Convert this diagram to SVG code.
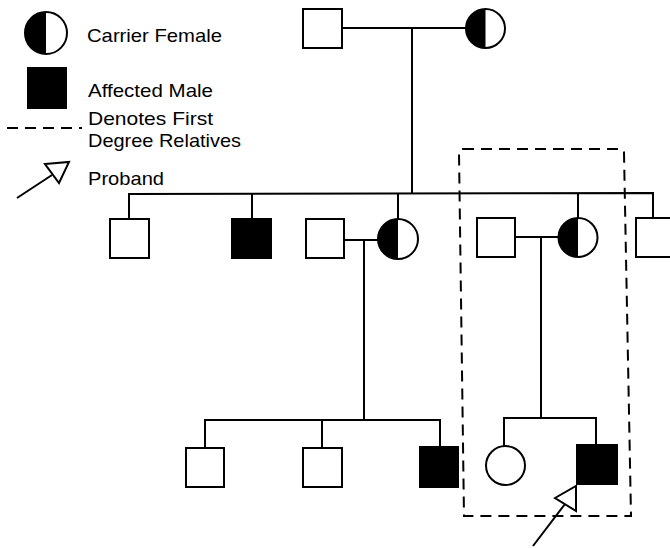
<svg xmlns="http://www.w3.org/2000/svg" width="670" height="548" viewBox="0 0 670 548">
<style>
.ln{fill:none;stroke:#000;stroke-width:2}
.m{fill:#fff;stroke:#000;stroke-width:2}
.a{fill:#000;stroke:#000;stroke-width:2}
.half{fill:#000}
.t{font-family:"Liberation Sans",Arial,sans-serif;font-size:19px;fill:#000}
.dash{fill:none;stroke:#000;stroke-width:2;stroke-dasharray:11,7}
</style>
<rect width="670" height="548" fill="#fff"/>
<g id="legend">
  <circle class="m" cx="46" cy="33" r="21"/>
  <path class="half" d="M46,12 A21,21 0 0 0 46,54 Z"/>
  <text class="t" x="87" y="42" textLength="135" lengthAdjust="spacingAndGlyphs">Carrier Female</text>
  <rect class="a" x="28" y="68" width="38" height="40"/>
  <text class="t" x="88" y="97" textLength="125" lengthAdjust="spacingAndGlyphs">Affected Male</text>
  <line class="dash" x1="7" y1="128" x2="82" y2="128"/>
  <text class="t" x="88" y="125" textLength="125" lengthAdjust="spacingAndGlyphs">Denotes First</text>
  <text class="t" x="88" y="147" textLength="153" lengthAdjust="spacingAndGlyphs">Degree Relatives</text>
  <line class="ln" x1="17" y1="198" x2="52" y2="175"/>
  <polygon class="ln" points="45,164 69,162 59,183"/>
  <text class="t" x="88" y="185" textLength="76" lengthAdjust="spacingAndGlyphs">Proband</text>
</g>
<g id="connectors">
  <line class="ln" x1="342" y1="28" x2="466" y2="28"/>
  <line class="ln" x1="412" y1="28" x2="412" y2="194"/>
  <polyline class="ln" points="129,219 129,194 653,193 653,218"/>
  <line class="ln" x1="252" y1="194" x2="252" y2="219"/>
  <line class="ln" x1="398" y1="194" x2="398" y2="219"/>
  <line class="ln" x1="578" y1="193" x2="578" y2="218"/>
  <line class="ln" x1="344" y1="240" x2="378" y2="240"/>
  <line class="ln" x1="364" y1="240" x2="364" y2="420"/>
  <polyline class="ln" points="205,448 205,420 440,420 440,446"/>
  <line class="ln" x1="322" y1="420" x2="322" y2="448"/>
  <line class="ln" x1="515" y1="237" x2="558" y2="237"/>
  <line class="ln" x1="541" y1="237" x2="541" y2="418"/>
  <polyline class="ln" points="504,446 504,418 596,418 596,444"/>
</g>
<g id="grandfather"><rect class="m" x="303" y="9" width="39" height="39"/></g>
<g id="grandmother"><circle class="m" cx="485.5" cy="28.5" r="19.5"/><path class="half" d="M485.5,9 A19.5,19.5 0 0 0 485.5,48 Z"/></g>
<g id="son1"><rect class="m" x="110" y="219" width="39" height="39"/></g>
<g id="son2"><rect class="a" x="232" y="219" width="39" height="39"/></g>
<g id="husband1"><rect class="m" x="306" y="219" width="38" height="39"/></g>
<g id="daughter1"><circle class="m" cx="398" cy="239" r="20"/><path class="half" d="M398,219 A20,20 0 0 0 398,259 Z"/></g>
<g id="husband2"><rect class="m" x="477" y="218" width="38" height="39"/></g>
<g id="daughter2"><circle class="m" cx="578" cy="237.5" r="19.5"/><path class="half" d="M578,218 A19.5,19.5 0 0 0 578,257 Z"/></g>
<g id="son3"><rect class="m" x="636" y="218" width="40" height="39"/></g>
<g id="gc1"><rect class="m" x="186" y="448" width="38" height="39"/></g>
<g id="gc2"><rect class="m" x="303" y="448" width="39" height="39"/></g>
<g id="gc3"><rect class="a" x="420" y="447" width="38" height="40"/></g>
<g id="gc4"><circle class="m" cx="505.5" cy="465.5" r="19.5"/></g>
<g id="proband"><rect class="a" x="577" y="445" width="40" height="39"/></g>
<g id="first-degree-box"><path class="dash" d="M463,149 L620,149 Q624,149 624,153 L631,516 L464,516 L459,153 Q459,149 463,149 Z"/></g>
<g id="proband-arrow">
  <line class="ln" x1="533" y1="546" x2="565" y2="504"/>
  <polygon class="m" points="555,498 576,486 576,511"/>
</g>
</svg>
